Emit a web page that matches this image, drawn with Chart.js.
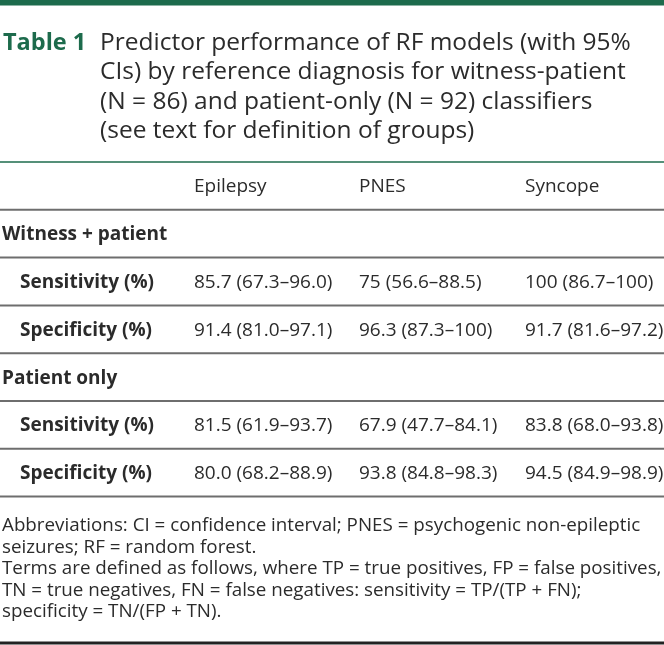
<!DOCTYPE html>
<html>
<head>
<meta charset="utf-8">
<script src="https://cdn.jsdelivr.net/npm/chart.js@4"></script>
<style>
  html, body { margin: 0; padding: 0; background: #fff; }
  #wrap { width: 664px; height: 645px; position: relative; }
</style>
</head>
<body>
<div id="wrap"><canvas id="tbl"></canvas></div>
<script>
// table content
const captionLabel = 'Table 1';
const captionLines = [
  'Predictor performance of RF models (with 95%',
  'CIs) by reference diagnosis for witness-patient',
  '(N = 86) and patient-only (N = 92) classifiers',
  '(see text for definition of groups)'
];
const diagnoses = ['Epilepsy', 'PNES', 'Syncope'];
const groups = ['Witness + patient', 'Patient only'];
const measures = ['Sensitivity (%)', 'Specificity (%)'];

// point estimate, lower and upper CI per diagnosis
const witnessSensitivity = ['85.7', '75', '100'];
const witnessSensitivityLow = ['67.3', '56.6', '86.7'];
const witnessSensitivityHigh = ['96.0', '88.5', '100'];
const witnessSpecificity = ['91.4', '96.3', '91.7'];
const witnessSpecificityLow = ['81.0', '87.3', '81.6'];
const witnessSpecificityHigh = ['97.1', '100', '97.2'];

const patientSensitivity = ['81.5', '67.9', '83.8'];
const patientSensitivityLow = ['61.9', '47.7', '68.0'];
const patientSensitivityHigh = ['93.7', '84.1', '93.8'];
const patientSpecificity = ['80.0', '93.8', '94.5'];
const patientSpecificityLow = ['68.2', '84.8', '84.9'];
const patientSpecificityHigh = ['88.9', '98.3', '98.9'];

const footnotes = [
  'Abbreviations: CI = confidence interval; PNES = psychogenic non-epileptic',
  'seizures; RF = random forest.',
  'Terms are defined as follows, where TP = true positives, FP = false positives,',
  'TN = true negatives, FN = false negatives: sensitivity = TP/(TP + FN);',
  'specificity = TN/(FP + TN).'
];

// layout
const FONT = '"Open Sans", "Noto Sans", sans-serif';
const GREEN = '#1d6b4c';
const TEXT = '#2b2b2b';
const colX = [20, 194, 359, 525];
const tableTop = 162;
const rowH = 47.8;

function cellText(v, lo, hi, i) {
  return v[i] + ' (' + lo[i] + '\u2013' + hi[i] + ')';
}

const blocks = [
  [witnessSensitivity, witnessSensitivityLow, witnessSensitivityHigh, witnessSpecificity, witnessSpecificityLow, witnessSpecificityHigh],
  [patientSensitivity, patientSensitivityLow, patientSensitivityHigh, patientSpecificity, patientSpecificityLow, patientSpecificityHigh]
];

// build one point per table cell
const cells = [];
function rowMid(r) { return tableTop + (r + 0.5) * rowH + 1; }
diagnoses.forEach((d, i) => cells.push({ x: colX[i + 1], y: rowMid(0), text: d, bold: false }));
let r = 1;
groups.forEach((g, gi) => {
  cells.push({ x: 2, y: rowMid(r), text: g, bold: true });
  r++;
  measures.forEach((m, mi) => {
    cells.push({ x: colX[0], y: rowMid(r), text: m, bold: true });
    const b = blocks[gi];
    diagnoses.forEach((d, i) => {
      cells.push({ x: colX[i + 1], y: rowMid(r), text: cellText(b[mi * 3], b[mi * 3 + 1], b[mi * 3 + 2], i), bold: false });
    });
    r++;
  });
});
const nRows = r;

const tablePlugin = {
  id: 'tablePlugin',
  afterDatasetsDraw(chart) {
    const ctx = chart.ctx;
    const xs = chart.scales.x, ys = chart.scales.y;
    const px = v => xs.getPixelForValue(v);
    const py = v => ys.getPixelForValue(v);
    ctx.save();

    // top bar
    ctx.fillStyle = GREEN;
    ctx.fillRect(px(0), py(0), px(664) - px(0), py(5.5) - py(0));

    // caption
    ctx.textBaseline = 'alphabetic';
    ctx.textAlign = 'left';
    ctx.font = 'bold 23.5px ' + FONT;
    ctx.fillStyle = GREEN;
    ctx.fillText(captionLabel, px(3), py(50));
    ctx.font = '24.5px ' + FONT;
    ctx.fillStyle = TEXT;
    captionLines.forEach((t, i) => ctx.fillText(t, px(100), py(50 + i * 29.4)));

    // rules
    function rule(y, w, c) {
      ctx.strokeStyle = c;
      ctx.lineWidth = w;
      ctx.beginPath();
      ctx.moveTo(px(0), py(y));
      ctx.lineTo(px(664), py(y));
      ctx.stroke();
    }
    rule(tableTop, 1.5, GREEN);
    for (let k = 1; k <= nRows; k++) rule(tableTop + k * rowH, 2, '#6e6e6e');
    rule(643, 3, '#222');

    // cells
    ctx.textBaseline = 'middle';
    ctx.fillStyle = TEXT;
    const meta = chart.getDatasetMeta(0);
    meta.data.forEach((el, i) => {
      const c = cells[i];
      ctx.font = (c.bold ? 'bold ' : '') + '19px ' + FONT;
      ctx.fillText(c.text, el.x, el.y);
    });

    // footnotes
    ctx.textBaseline = 'alphabetic';
    ctx.font = '18.8px ' + FONT;
    footnotes.forEach((t, i) => ctx.fillText(t, px(2), py(531 + i * 21.5)));

    ctx.restore();
  }
};

new Chart(document.getElementById('tbl'), {
  type: 'scatter',
  data: {
    datasets: [{
      data: cells,
      pointRadius: 0,
      pointHoverRadius: 0
    }]
  },
  options: {
    responsive: true,
    maintainAspectRatio: false,
    animation: false,
    layout: { padding: 0 },
    events: [],
    scales: {
      x: { type: 'linear', min: 0, max: 664, display: false },
      y: { type: 'linear', min: 0, max: 645, reverse: true, display: false }
    },
    plugins: {
      legend: { display: false },
      tooltip: { enabled: false }
    }
  },
  plugins: [tablePlugin]
});
</script>
</body>
</html>
